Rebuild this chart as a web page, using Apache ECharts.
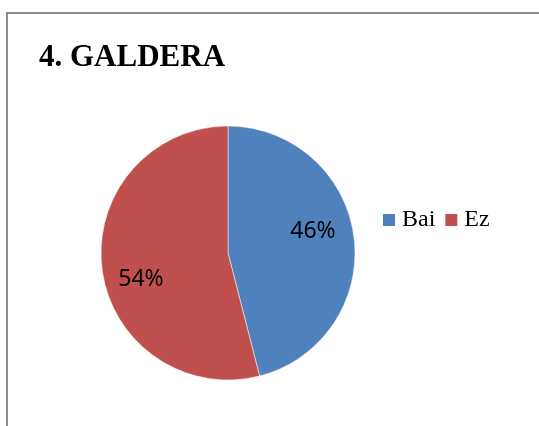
<!DOCTYPE html>
<html>
<head>
<meta charset="utf-8">
<script src="https://cdn.jsdelivr.net/npm/echarts@6/dist/echarts.min.js"></script>
<style>
    html, body { margin: 0; padding: 0; background: #fff; }
    #chart { width: 539px; height: 426px; }
</style>
</head>
<body>
<div id="chart"></div>
<script>
// data
var categories = ['Bai', 'Ez']
var values = [46, 54]
var colors = ['#4F81BD', '#C0504D']

var myChart = echarts.init(document.getElementById('chart'))
myChart.setOption({
    animation: false,
    title: {
        text: '4. GALDERA',
        left: 39,
        top: 42,
        padding: 0,
        textStyle: {
            fontFamily: 'Liberation Serif',
            fontWeight: 'bold',
            fontSize: 31,
            color: '#000'
        }
    },
    //外框
    graphic: [{
        type: 'rect',
        shape: { x: 7, y: 13, width: 600, height: 500 },
        style: { fill: 'none', stroke: '#8c8c8c', lineWidth: 2 },
        silent: true
    }],
    legend: {
        orient: 'horizontal',
        left: 381,
        top: 208,
        padding: 0,
        icon: 'rect',
        itemWidth: 14,
        itemHeight: 14,
        itemGap: 8,
        selectedMode: false,
        data: categories,
        textStyle: {
            fontFamily: 'Liberation Serif',
            fontSize: 24,
            color: '#000',
            padding: [0, 0, 0, 1]
        }
    },
    series: [
        {
            type: 'pie',
            center: [228, 253],
            radius: 127,
            startAngle: 90,
            clockwise: true,
            silent: true,
            data: categories.map(function (c, i) {
                return { name: c, value: values[i], itemStyle: { color: colors[i] } }
            }),
            itemStyle: { borderColor: '#fff', borderWidth: 0.5 },
            label: {
                show: true,
                position: 'inside',
                formatter: '{d}%',
                fontFamily: 'Noto Sans',
                fontSize: 23,
                color: '#000'
            },
            labelLine: { show: false },
            // Excel风格的标签位置微调
            labelLayout: function (p) {
                return p.dataIndex === 0 ? { dx: 19, dy: -13 } : { dx: -21, dy: 18 }
            }
        }
    ]
})
</script>
</body>
</html>
